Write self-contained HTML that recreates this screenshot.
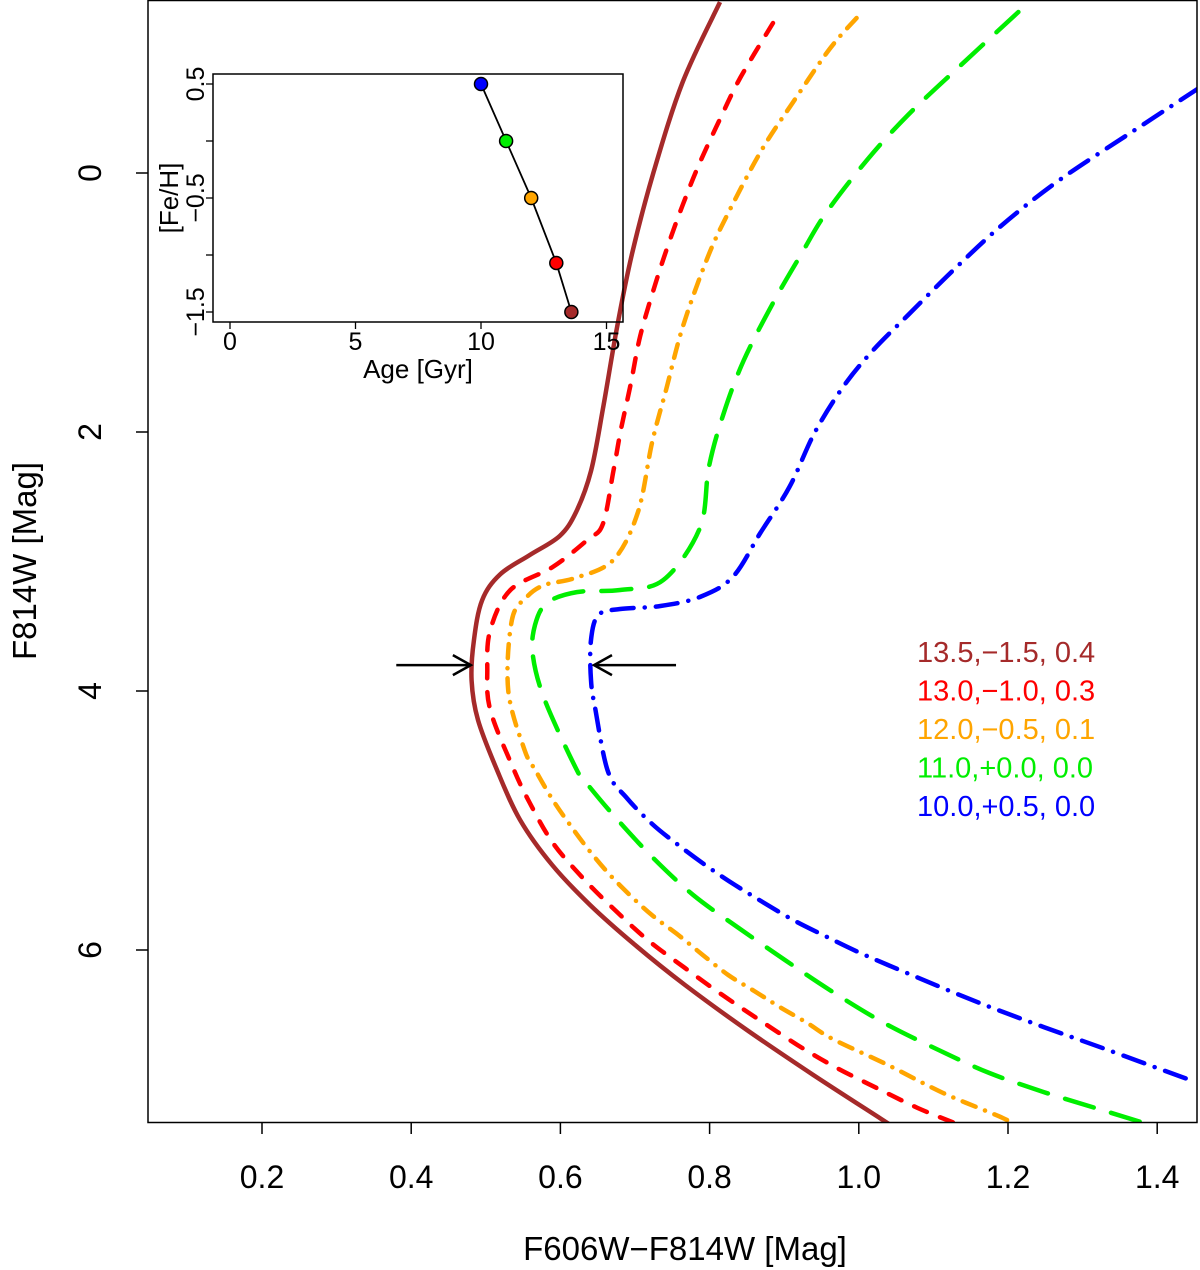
<!DOCTYPE html>
<html><head><meta charset="utf-8"><style>
body{margin:0;background:#fff}
svg{display:block;font-family:"Liberation Sans",Arial,sans-serif}
</style></head><body>
<svg id="chart" width="1200" height="1270" viewBox="0 0 1200 1270" xmlns="http://www.w3.org/2000/svg">
<g id="main"></g>
<g id="inset"></g>
</svg>
<script>
// ---- main chart data ----
const xTicks = [0.2,0.4,0.6,0.8,1.0,1.2,1.4];
const xTickLabels = ["0.2","0.4","0.6","0.8","1.0","1.2","1.4"];
const yTicks = [0,2,4,6];
const yTickLabels = ["0","2","4","6"];
const brownColor = [0.814,0.764,0.725,0.696,0.676,0.657,0.641,0.621,0.599,0.559,0.519,0.495,0.484,0.481,0.4895,0.515,0.546,0.589,0.640,0.700,0.767,0.850,0.939,1.028,1.042];
const brownMag = [-1.320,-0.703,-0.008,0.625,1.189,1.822,2.301,2.618,2.803,2.95,3.10,3.30,3.61,3.92,4.224,4.610,4.996,5.344,5.653,5.961,6.270,6.618,6.965,7.297,7.35];
const redColor = [0.885,0.841,0.814,0.786,0.764,0.744,0.726,0.707,0.694,0.681,0.671,0.657,0.636,0.590,0.533,0.506,0.502,0.506,0.536,0.559,0.590,0.630,0.673,0.717,0.767,0.817,0.867,0.918,0.968,1.024,1.079,1.125,1.14];
const redMag = [-1.158,-0.734,-0.417,-0.069,0.247,0.564,0.880,1.259,1.637,1.985,2.301,2.710,2.834,3.042,3.220,3.529,3.838,4.147,4.587,4.865,5.174,5.444,5.691,5.923,6.139,6.347,6.541,6.734,6.903,7.066,7.220,7.328,7.36];
const orangeColor = [0.997,0.961,0.912,0.869,0.825,0.797,0.764,0.742,0.723,0.704,0.671,0.620,0.579,0.555,0.535,0.530,0.552,0.567,0.589,0.612,0.637,0.664,0.693,0.724,0.758,0.791,0.825,0.860,0.894,0.931,0.965,1.039,1.113,1.193,1.21];
const orangeMag = [-1.197,-0.958,-0.548,-0.170,0.309,0.656,1.189,1.668,2.077,2.618,2.988,3.127,3.181,3.274,3.452,3.992,4.456,4.617,4.834,5.027,5.220,5.405,5.575,5.737,5.884,6.039,6.193,6.317,6.440,6.564,6.687,6.888,7.104,7.297,7.36];
const greenColor = [1.214,1.137,1.066,1.011,0.956,0.923,0.885,0.846,0.819,0.799,0.787,0.738,0.680,0.622,0.582,0.566,0.563,0.579,0.622,0.637,0.671,0.723,0.778,0.839,0.901,0.961,1.034,1.107,1.175,1.248,1.317,1.378,1.40];
const greenMag = [-1.243,-0.834,-0.448,-0.100,0.309,0.625,1.004,1.444,1.853,2.270,2.741,3.143,3.220,3.236,3.320,3.490,3.722,4.069,4.610,4.726,4.958,5.282,5.575,5.830,6.077,6.309,6.564,6.772,6.950,7.097,7.220,7.328,7.37];
const blueColor = [1.456,1.368,1.269,1.192,1.127,1.066,1.017,0.977,0.940,0.907,0.868,0.831,0.787,0.734,0.680,0.651,0.641,0.641,0.647,0.664,0.689,0.723,0.758,0.796,0.834,0.871,0.912,0.952,1.002,1.077,1.162,1.248,1.334,1.433,1.45];
const blueMag = [-0.656,-0.324,0.054,0.402,0.749,1.097,1.382,1.668,2.015,2.425,2.780,3.120,3.274,3.344,3.367,3.413,3.606,3.915,4.147,4.625,4.826,5.027,5.189,5.351,5.498,5.629,5.768,5.884,6.023,6.208,6.409,6.595,6.772,6.981,7.01];
const legendLabels = ["13.5,\u22121.5, 0.4","13.0,\u22121.0, 0.3","12.0,\u22120.5, 0.1","11.0,+0.0, 0.0","10.0,+0.5, 0.0"];
const legendColors = ["#a52a2a","#ff0000","#ffa500","#00ee00","#0000ff"];
const arrowMag = 3.8;
const arrowLeftTip = 0.48, arrowLeftTail = 0.38;
const arrowRightTip = 0.645, arrowRightTail = 0.755;
// ---- inset data ----
const insetAge = [10,11,12,13,13.6];
const insetFeH = [0.5,0.0,-0.5,-1.07,-1.5];
const insetColors = ["#0000ff","#00ee00","#ffa500","#ff0000","#a52a2a"];
const insetXTicks = [0,5,10,15];
const insetYTicks = [0.5,0,-0.5,-1,-1.5];
const insetYTickLabels = ["0.5","","\u22120.5","","\u22121.5"];

const NS="http://www.w3.org/2000/svg";
function mk(parent,tag,attrs,text){const e=document.createElementNS(NS,tag);for(const k in attrs)e.setAttribute(k,attrs[k]);if(text!==undefined)e.textContent=text;parent.appendChild(e);return e;}
const X=c=>112.8+746*c;
const Y=m=>173+129.5*m;
const main=document.getElementById('main');
const L=148,R=1197,T=0,B=1122;

function smoothPath(pts){
  let d=`M${pts[0][0].toFixed(1)},${pts[0][1].toFixed(1)}`;
  for(let i=0;i<pts.length-1;i++){
    const p0=pts[Math.max(0,i-1)],p1=pts[i],p2=pts[i+1],p3=pts[Math.min(pts.length-1,i+2)];
    const c1=[p1[0]+(p2[0]-p0[0])/6,p1[1]+(p2[1]-p0[1])/6];
    const c2=[p2[0]-(p3[0]-p1[0])/6,p2[1]-(p3[1]-p1[1])/6];
    d+=` C${c1[0].toFixed(1)},${c1[1].toFixed(1)} ${c2[0].toFixed(1)},${c2[1].toFixed(1)} ${p2[0].toFixed(1)},${p2[1].toFixed(1)}`;
  }
  return d;
}
const defs=mk(document.getElementById('chart'),'defs',{});
const cp=mk(defs,'clipPath',{id:'clipMain'});
mk(cp,'rect',{x:L,y:T,width:R-L,height:B-T});
const curves=[
 ['brown-isochrone',brownColor,brownMag,'#a52a2a','none'],
 ['red-isochrone',redColor,redMag,'#ff0000','14,14'],
 ['orange-isochrone',orangeColor,orangeMag,'#ffa500','14,10,0.1,10'],
 ['green-isochrone',greenColor,greenMag,'#00ee00','30,18'],
 ['blue-isochrone',blueColor,blueMag,'#0000ff','22,11,0.1,11']
];
const cg=mk(main,'g',{'clip-path':'url(#clipMain)'});


curves.forEach(c=>{
  const pts=c[1].map((v,i)=>[X(v),Y(c[2][i])]);
  const p=mk(cg,'path',{d:smoothPath(pts),fill:'none',stroke:c[3],'stroke-width':4.5,'stroke-linecap':c[4]==='none'?'butt':'round','stroke-linejoin':'round'});
  if(c[4]!=='none')p.setAttribute('stroke-dasharray',c[4]);
  
  
});
const fr=mk(main,'rect',{x:L,y:T+0.5,width:R-L,height:B-T,fill:'none',stroke:'#000','stroke-width':1.5});


xTicks.forEach((v,i)=>{
  mk(main,'line',{x1:X(v),x2:X(v),y1:B,y2:B+12,stroke:'#000','stroke-width':1.5});
  const t=mk(main,'text',{x:X(v),y:1188,'font-size':32,'text-anchor':'middle'},xTickLabels[i]);
  
  
});
yTicks.forEach((v,i)=>{
  mk(main,'line',{x1:L,x2:L-12,y1:Y(v),y2:Y(v),stroke:'#000','stroke-width':1.5});
  const t=mk(main,'text',{x:0,y:0,'font-size':32,'text-anchor':'middle',transform:`translate(101,${Y(v)}) rotate(-90)`},yTickLabels[i]);
  
  
});
let t=mk(main,'text',{x:685,y:1260,'font-size':33,'text-anchor':'middle'},'F606W\u2212F814W [Mag]');


t=mk(main,'text',{x:0,y:0,'font-size':33,'text-anchor':'middle',transform:'translate(36,561) rotate(-90)'},'F814W [Mag]');


legendLabels.forEach((s,i)=>{
  const e=mk(main,'text',{x:917,y:662+38.5*i,'font-size':29,fill:legendColors[i]},s);
  
  
});
function arrow(tail,tip,name){
  const g=mk(main,'g',{stroke:'#000','stroke-width':2.5,fill:'none'});
  
  
  const y=Y(arrowMag),x1=X(tail),x2=X(tip),dir=Math.sign(x2-x1);
  mk(g,'line',{x1:x1,y1:y,x2:x2,y2:y});
  mk(g,'polyline',{points:`${x2-dir*18},${y-10} ${x2},${y} ${x2-dir*18},${y+10}`});
}
arrow(arrowLeftTail,arrowLeftTip,'left-arrow');
arrow(arrowRightTail,arrowRightTip,'right-arrow');

// ---- inset ----
const ins=document.getElementById('inset');
const IX=a=>230+25.1*a;
const IY=f=>141-114*f;
const IL=213,IR=623,IT=74,IB=322;
const ir=mk(ins,'rect',{x:IL,y:IT,width:IR-IL,height:IB-IT,fill:'none',stroke:'#000','stroke-width':1.5});


insetXTicks.forEach(v=>{
  mk(ins,'line',{x1:IX(v),x2:IX(v),y1:IB,y2:IB+7,stroke:'#000','stroke-width':1.3});
  const e=mk(ins,'text',{x:IX(v),y:350,'font-size':25,'text-anchor':'middle'},String(v));
  
  
});
insetYTicks.forEach((v,i)=>{
  mk(ins,'line',{x1:IL,x2:IL-7,y1:IY(v),y2:IY(v),stroke:'#000','stroke-width':1.3});
  if(insetYTickLabels[i]){
    const e=mk(ins,'text',{x:0,y:0,'font-size':25,'text-anchor':'middle',transform:`translate(204,${IY(v)}) rotate(-90)`},insetYTickLabels[i]);
    
    
  }
});
t=mk(ins,'text',{x:418,y:378,'font-size':26,'text-anchor':'middle'},'Age [Gyr]');


t=mk(ins,'text',{x:0,y:0,'font-size':26,'text-anchor':'middle',transform:'translate(178,198) rotate(-90)'},'[Fe/H]');


const ln=mk(ins,'polyline',{points:insetAge.map((a,i)=>`${IX(a)},${IY(insetFeH[i])}`).join(' '),fill:'none',stroke:'#000','stroke-width':1.8});


insetAge.forEach((a,i)=>{
  const c=mk(ins,'circle',{cx:IX(a),cy:IY(insetFeH[i]),r:6.5,fill:insetColors[i],stroke:'#000','stroke-width':1.5});
  
  
});
</script>
</body></html>
